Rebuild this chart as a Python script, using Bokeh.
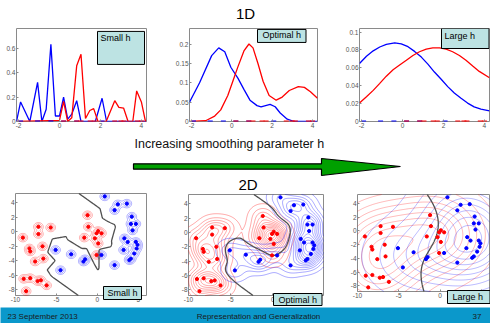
import numpy as np
from bokeh.plotting import figure
from bokeh.layouts import column, row
from bokeh.models import Range1d, FixedTicker, Label, CustomJSTickFormatter
from bokeh.core.properties import value
from bokeh.embed import file_html
from bokeh.resources import INLINE

FONT = "Liberation Sans"
RED = "#ff0000"
BLUE = "#0000ff"
BOX_FILL = "#bde3e3"
FRAME_GRAY = "#8a8a8a"

# ---------------- 1D data ----------------
blue_pts_1d = [-1.9, -1.07, -0.42, 0.2, 0.84, 2.08]
red_pts_1d = [0.2, 0.84, 1.05, 1.5, 1.7, 2.7, 3.0, 3.15, 3.8, 4.0]

small_blue_x = [-2.1, -1.9, -1.45, -1.07, -0.86, -0.65, -0.42, -0.2, 0.0, 0.2, 0.4, 0.6, 0.84, 1.05, 1.75, 2.08, 2.3, 4.25]
small_blue_y = [0, 0.16, 0, 0.32, 0, 0.1, 0.63, 0.045, 0.045, 0.2, 0.02, 0.06, 0.17, 0, 0, 0.19, 0, 0]
small_red_x = [-2.1, 0.0, 0.2, 0.4, 0.6, 0.84, 1.05, 1.27, 1.48, 1.67, 1.88, 2.28, 2.7, 2.9, 3.13, 3.35, 3.58, 3.77, 4.0, 4.2, 4.25]
small_red_y = [0, 0.01, 0.165, 0, 0.03, 0.455, 0.55, 0.025, 0.09, 0.105, 0, 0, 0.17, 0.115, 0.11, 0, 0, 0.25, 0.16, 0, 0]

opt_blue_x = [-2.1, -1.6, -1.0, -0.65, -0.35, -0.05, 0.3, 0.6, 0.9, 1.25, 1.45, 1.9, 2.15, 2.4, 2.75, 3.1, 4.25]
opt_blue_y = [0.05, 0.1, 0.17, 0.19, 0.18, 0.14, 0.112, 0.083, 0.055, 0.041, 0.038, 0.044, 0.038, 0.022, 0.006, 0, 0]
opt_red_x = [-2.1, -1.3, -0.85, -0.55, -0.2, 0.05, 0.3, 0.6, 0.85, 1.05, 1.3, 1.55, 1.85, 2.2, 2.5, 2.85, 3.3, 3.6, 3.9, 4.25]
opt_red_y = [0, 0.002, 0.014, 0.03, 0.067, 0.104, 0.141, 0.182, 0.2, 0.19, 0.149, 0.104, 0.067, 0.055, 0.063, 0.08, 0.09, 0.088, 0.077, 0.06]

large_blue_x = [-2.1, -1.76, -1.43, -1.11, -0.79, -0.38, -0.06, 0.27, 0.59, 0.92, 1.24, 1.56, 1.89, 2.21, 2.53, 2.86, 3.18, 3.5, 3.83, 4.25]
large_blue_y = [0.0649, 0.073, 0.079, 0.0833, 0.0862, 0.0879, 0.0869, 0.0837, 0.0784, 0.072, 0.0642, 0.0553, 0.0472, 0.039, 0.0319, 0.0259, 0.0206, 0.0163, 0.0138, 0.012]
large_red_x = [-2.1, -1.76, -1.43, -1.11, -0.79, -0.46, -0.14, 0.19, 0.51, 0.83, 1.16, 1.48, 1.81, 2.13, 2.45, 2.78, 3.1, 3.43, 3.75, 4.25]
large_red_y = [0.0206, 0.0277, 0.0348, 0.0426, 0.0507, 0.0578, 0.0631, 0.0684, 0.0738, 0.078, 0.0809, 0.0823, 0.0823, 0.0809, 0.078, 0.0738, 0.0684, 0.0621, 0.056, 0.049]

x_ticks_1d = [-2, 0, 2, 4]
y_ticks_small = [0, 0.2, 0.4, 0.6]
y_ticks_opt = [0, 0.05, 0.1, 0.15, 0.2]
y_ticks_large = [0, 0.02, 0.04, 0.06, 0.08, 0.1]

# ---------------- 2D data ----------------
red_x = [-9.1, -7.2, -7.2, -5.7, -8.3, -8.2, -6.7, -7.6, -6.6, -9.0, -8.2, -7.3, -6.9, -6.2, -8.7,
         -1.2, -1.1, -1.6, 0.1, -0.1, 0.5, -0.3, 0.1, -0.1]
red_y = [-0.8, 0.7, -0.3, 0.6, -2.3, -2.7, -2.0, -4.1, -3.7, -6.5, -6.4, -6.8, -6.7, -7.4, -8.2,
         2.3, 0.7, -0.8, 0.1, -0.2, -0.2, -0.9, -1.6, -3.2]
blue_x = [0.9, 2.5, 2.1, 3.6, 4.2, 4.1, 4.7, 4.3, 3.3, 3.7, 4.7, 4.9, 4.8, 3.2, 4.5, 4.1, 3.9, 2.1,
          0.5, -1.5, -1.7, -3.2, -5.1, -4.5]
blue_y = [4.9, 3.8, 3.0, 3.9, 2.1, 1.1, 1.1, 0.2, -0.9, -1.4, -1.4, -1.8, -2.3, -2.5, -3.0, -3.7, -3.9, -4.6,
          -3.2, -3.8, -4.1, -3.1, -2.5, -5.3]
x_ticks_2d = [-10, -5, 0, 5]
y_ticks_2d = [4, 2, 0, -2, -4, -6, -8]

XR_1D = (-2.1, 4.25)
XR_2D = (-10, 6)
YR_2D = (-8.8, 5.3)

fmt = CustomJSTickFormatter(code="return String(tick);")


def style_axes(p, xt, yt):
    p.xgrid.visible = False
    p.ygrid.visible = False
    p.xaxis.ticker = FixedTicker(ticks=xt)
    p.yaxis.ticker = FixedTicker(ticks=yt)
    for ax in (p.xaxis[0], p.yaxis[0]):
        ax.formatter = fmt
        ax.axis_line_color = None
        ax.major_tick_in = 2
        ax.major_tick_out = 0
        ax.major_tick_line_color = FRAME_GRAY
        ax.minor_tick_line_color = None
        ax.major_label_text_font_size = "6.5px"
        ax.major_label_text_color = "#555555"
        ax.major_label_text_font = FONT
        ax.major_label_standoff = 1


def make_fig(w, h, xr, yr, lb, rb, tb, bb, xt, yt):
    p = figure(width=w, height=h, x_range=Range1d(*xr), y_range=Range1d(*yr), title=None,
               toolbar_location=None, output_backend="svg",
               min_border_left=lb, min_border_right=rb, min_border_top=tb, min_border_bottom=bb)
    p.outline_line_color = FRAME_GRAY
    p.outline_line_width = 1
    style_axes(p, xt, yt)
    return p


def box_label(p, frame_px, xr, yr, corner_px, text, pad):
    # frame_px = (left, top, right, bottom) of the drawn plot box on the slide
    fl, ft, fr, fb = frame_px
    x = xr[0] + (corner_px[0] - fl) / (fr - fl) * (xr[1] - xr[0])
    y = yr[1] - (corner_px[1] - ft) / (fb - ft) * (yr[1] - yr[0])
    lab = Label(x=x, y=y, text=text, text_align="left", text_baseline="top",
                text_font=FONT, text_font_size="9px", text_color="black",
                background_fill_color=BOX_FILL, border_line_color="black",
                border_line_width=1, padding=pad)
    p.add_layout(lab)


def plain_fig(w, h, bg="white"):
    p = figure(width=w, height=h, x_range=Range1d(0, w), y_range=Range1d(h, 0), title=None,
               toolbar_location=None, output_backend="svg", x_axis_location=None, y_axis_location=None,
               min_border=0, background_fill_color=bg, border_fill_color=bg)
    p.xgrid.visible = False
    p.ygrid.visible = False
    p.outline_line_color = None
    return p


# ---------------- header (1D) ----------------
head = plain_fig(490, 24)
head.text(x=[245], y=[12.8], text=["1D"], text_font=value(FONT), text_font_size="15px",
          text_baseline="middle", text_align="center", text_color="black")

# ---------------- top row ----------------
TOP_H = 110
yr1 = (0, 0.76)
f1 = make_fig(165, TOP_H, XR_1D, yr1, 16, 19, 1, 13, x_ticks_1d, y_ticks_small)
f1.line(small_blue_x, small_blue_y, line_color=BLUE, line_width=1.3)
f1.line(small_red_x, small_red_y, line_color=RED, line_width=1.3)
f1.scatter(blue_pts_1d, [0] * len(blue_pts_1d), marker="dash", size=5, line_width=2, color=BLUE)
f1.scatter(red_pts_1d, [0] * len(red_pts_1d), marker="dash", size=5, line_width=2, color=RED)
box_label(f1, (16, 25, 146, 121), XR_1D, yr1, (97, 28), "Small h", dict(left=3, right=14, top=2, bottom=21))

yr2 = (0, 0.24)
f2 = make_fig(165, TOP_H, XR_1D, yr2, 24, 13, 3, 9, x_ticks_1d, y_ticks_opt)
f2.line(opt_blue_x, opt_blue_y, line_color=BLUE, line_width=1.3)
f2.line(opt_red_x, opt_red_y, line_color=RED, line_width=1.3)
f2.scatter(blue_pts_1d, [0] * len(blue_pts_1d), marker="dash", size=5, line_width=2, color=BLUE)
f2.scatter(red_pts_1d, [0] * len(red_pts_1d), marker="dash", size=5, line_width=2, color=RED)
box_label(f2, (189, 27, 317, 125), XR_1D, yr2, (257, 28), "Optimal h", dict(left=5, right=5, top=1, bottom=2))

yr3 = (0, 0.104)
f3 = make_fig(160, TOP_H, XR_1D, yr3, 29, 1, 4, 8, x_ticks_1d, y_ticks_large)
f3.line(large_blue_x, large_blue_y, line_color=BLUE, line_width=1.3)
f3.line(large_red_x, large_red_y, line_color=RED, line_width=1.3)
f3.scatter(blue_pts_1d, [0] * len(blue_pts_1d), marker="dash", size=5, line_width=2, color=BLUE)
f3.scatter(red_pts_1d, [0] * len(red_pts_1d), marker="dash", size=5, line_width=2, color=RED)
box_label(f3, (359, 28, 489, 126), XR_1D, yr3, (441, 28), "Large h", dict(left=3, right=14, top=2, bottom=8))

# ---------------- middle (caption + arrow + 2D) ----------------
MID_H = 58
mid = plain_fig(490, MID_H)
mid.text(x=[134], y=[9], text=["Increasing smoothing parameter h"], text_font=value(FONT),
         text_font_size="12.5px", text_baseline="middle", text_align="left", text_color="#111111")
mid.patch([133, 321, 321, 400, 321, 321, 133],
          [29.3, 29.3, 24, 32, 41, 34.7, 34.7],
          fill_color="#00a000", line_color="black", line_width=1.2)
mid.text(x=[247.5], y=[50], text=["2D"], text_font=value(FONT), text_font_size="15px",
         text_baseline="middle", text_align="center", text_color="black")

# ---------------- bottom row ----------------
gx = np.linspace(XR_2D[0], XR_2D[1], 241)
gy = np.linspace(YR_2D[0], YR_2D[1], 213)
GX, GY = np.meshgrid(gx, gy)


def log_kde(px, py, h):
    px = np.asarray(px, float)[:, None, None]
    py = np.asarray(py, float)[:, None, None]
    a = -((GX[None] - px) ** 2 + (GY[None] - py) ** 2) / (2 * h * h)
    m = a.max(axis=0)
    return m + np.log(np.exp(a - m).sum(axis=0)) - np.log(px.shape[0] * 2 * np.pi * h * h)


BOT_H = 115
ROW_TOP = 192


def make_2d_fig(x0, w, box_px, h, rel_levels, alpha, per_point, label_corner, label_text, pad):
    # box_px: drawn plot box (left, top, right, bottom) in slide pixels; frame = whole canvas
    bl, bt, br, bb = box_px
    fl, fr = x0, x0 + w
    ft, fb = ROW_TOP, ROW_TOP + BOT_H
    sx = (XR_2D[1] - XR_2D[0]) / (br - bl)
    sy = (YR_2D[1] - YR_2D[0]) / (bb - bt)
    xr = (XR_2D[0] - (bl - fl) * sx, XR_2D[1] + (fr - br) * sx)
    yr = (YR_2D[0] - (fb - bb) * sy, YR_2D[1] + (bt - ft) * sy)
    p = figure(width=w, height=BOT_H, x_range=Range1d(*xr), y_range=Range1d(*yr), title=None,
               toolbar_location=None, output_backend="svg",
               min_border_left=0, min_border_right=0, min_border_top=0, min_border_bottom=0)
    p.outline_line_color = None
    style_axes(p, x_ticks_2d, y_ticks_2d)
    p.xaxis[0].fixed_location = YR_2D[0]
    p.yaxis[0].fixed_location = XR_2D[0]
    p.quad(left=[XR_2D[0]], right=[XR_2D[1]], bottom=[YR_2D[0]], top=[YR_2D[1]],
           fill_color=None, line_color=FRAME_GRAY, line_width=1)
    lr = log_kde(red_x, red_y, h)
    lb = log_kde(blue_x, blue_y, h)
    for lg, col, n in ((lr, RED, len(red_x)), (lb, BLUE, len(blue_x))):
        dens = np.exp(lg)
        ref = 1.0 / (n * 2 * np.pi * h * h) if per_point else dens.max()
        levels = [ref * f for f in rel_levels]
        p.contour(gx, gy, dens, levels, line_color=col, line_alpha=alpha, line_width=0.7)
    p.contour(gx, gy, lr - lb, [0.0], line_color="#505050", line_width=1.3)
    p.scatter(red_x, red_y, marker="circle", size=3.2, color=RED)
    p.scatter(blue_x, blue_y, marker="circle", size=3.2, color=BLUE)
    box_label(p, box_px, XR_2D, YR_2D, label_corner, label_text, pad)
    return p


f4 = make_2d_fig(0, 165, (15, 193, 146, 295), 0.3, [0.15, 0.4, 0.75], 0.45, True,
                 (103, 286), "Small h", dict(left=4, right=4, top=1, bottom=2))
f5 = make_2d_fig(165, 165, (188, 194, 323, 295), 1.0, list(np.linspace(0.05, 0.95, 12)), 0.5, False,
                 (273, 293), "Optimal h", dict(left=5, right=5, top=1, bottom=1))
f6 = make_2d_fig(330, 160, (357, 194, 489, 291), 3.5, list(np.linspace(0.08, 0.92, 9)), 0.4, False,
                 (447, 290), "Large h", dict(left=5, right=7, top=1, bottom=2))

# ---------------- footer ----------------
foot = plain_fig(490, 16, bg="#0b98cb")
foot.text(x=[7], y=[8.5], text=["23 September 2013"], text_font=value(FONT), text_font_size="8px",
          text_baseline="middle", text_align="left", text_color="#1a1a1a")
foot.text(x=[258], y=[8.5], text=["Representation and Generalization"], text_font=value(FONT),
          text_font_size="8px", text_baseline="middle", text_align="center", text_color="#1a1a1a")
foot.text(x=[481], y=[8.5], text=["37"], text_font=value(FONT), text_font_size="8px",
          text_baseline="middle", text_align="right", text_color="#1a1a1a")

layout = column(head, row(f1, f2, f3), mid, row(f4, f5, f6), foot)
open("out.html", "w").write(file_html(layout, INLINE))
